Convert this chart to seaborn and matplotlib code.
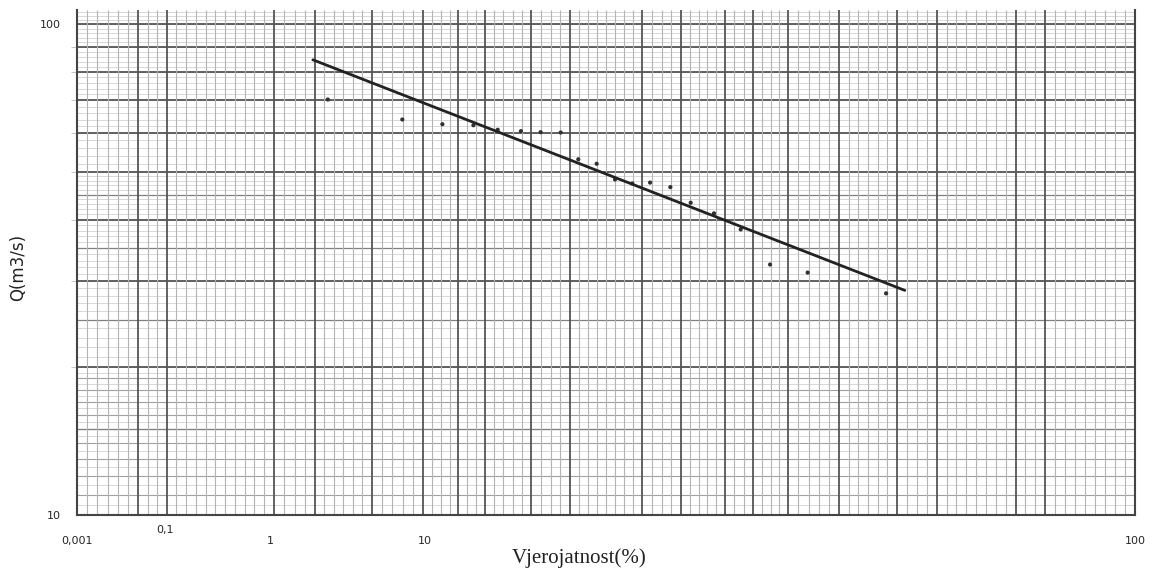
import numpy as np
import pandas as pd
import matplotlib
matplotlib.use("Agg")
import matplotlib.pyplot as plt
import seaborn as sns
from matplotlib import transforms

# 数据：经验频率 (%) 和流量 Q (m3/s)
prob = [2.36, 7.14, 10.58, 11.70, 12.66, 13.65, 14.55, 15.53, 16.44, 17.45,
        18.52, 19.59, 20.75, 22.16, 23.67, 25.53, 27.84, 30.62, 34.59, 44.61]
q = [70.3, 64.0, 62.6, 62.3, 61.0, 60.6, 60.3, 60.2, 53.1, 52.0,
     48.3, 47.4, 47.6, 46.6, 43.3, 41.2, 38.2, 32.4, 31.2, 28.3]

# 理论曲线两端
fit_prob = [1.89, 47.4]
fit_q = [84.7, 28.7]

x_ticks = [0.001, 0.1, 1, 10, 100]
x_labels = ['0,001', '0,1', '1', '10', '100']
y_ticks = [10, 100]

points = pd.DataFrame({'p': prob, 'Q': q})
fit = pd.DataFrame({'p': fit_prob, 'Q': fit_q})

# 概率纸横轴：刻度之间按对数分段
knots_log = [-3, -1, 0, 1, 2]
knots_pos = [0, 88, 193, 348, 1058]


def fwd(p):
    with np.errstate(divide='ignore', invalid='ignore'):
        lp = np.log10(np.clip(np.asarray(p, dtype=float), 1e-12, None))
    return np.interp(lp, knots_log, knots_pos)


def inv(u):
    return 10 ** np.interp(np.asarray(u, dtype=float), knots_pos, knots_log)


sns.set_theme(style="white")
plt.rcParams['font.family'] = ['DejaVu Sans']

fig = plt.figure(figsize=(11.57, 5.73), dpi=100)
ax = fig.add_axes([77 / 1157, 58 / 573, 1058 / 1157, 505 / 573])
ax.set_xscale('function', functions=(fwd, inv))
ax.set_yscale('log')
ax.set_xlim(0.001, 100)
ax.set_ylim(10, 107)

# 纸张网格 —— 横线
light_c = '#d2d2d2'
for v in np.arange(10, 20, 0.5):
    ax.axhline(v, color=light_c, lw=0.6, zorder=0)
for v in np.arange(20, 50, 1):
    ax.axhline(v, color=light_c, lw=0.6, zorder=0)
for v in np.arange(50, 107, 2):
    ax.axhline(v, color=light_c, lw=0.6, zorder=0)
for v in np.arange(11, 20, 1):
    ax.axhline(v, color='#a0a0a0', lw=0.8, zorder=0)
for v in [15, 25, 35, 45]:
    ax.axhline(v, color='#808080', lw=0.9, zorder=0)
for v in range(20, 101, 10):
    ax.axhline(v, color='#555555', lw=1.3, zorder=0)

# 纸张网格 —— 竖线（以轴宽比例表示）
dark_px = [0, 61, 89.7, 197, 238, 294.7, 346.3, 381.3, 408, 454, 493, 565.3,
           604, 648, 676, 711.3, 762.3, 819.7, 859.7, 938.7, 968, 1058]
dark = np.array(dark_px) / 1058
light = []
for a, b in zip(dark[:-1], dark[1:]):
    n = max(int(round((b - a) * 1058 / 9.5)) - 1, 0)
    light.extend(np.linspace(a, b, n + 2)[1:-1])
ax.vlines(light, 0, 1, transform=ax.transAxes, color='#b4b4b4', lw=0.8, zorder=0)
ax.vlines(dark, 0, 1, transform=ax.transAxes, color='#555555', lw=1.3, zorder=0)

# 数据点和拟合线
sns.scatterplot(data=points, x='p', y='Q', ax=ax, s=9, color='#303030',
                edgecolor='none', zorder=3)
sns.lineplot(data=fit, x='p', y='Q', ax=ax, color='#222222', lw=2, zorder=4)

ax.spines['top'].set_visible(False)
for side in ['left', 'bottom', 'right']:
    ax.spines[side].set_color('#444444')
    ax.spines[side].set_linewidth(1.5)

ax.set_xticks(x_ticks)
ax.set_xticklabels(x_labels, fontsize=8)
ax.xaxis.set_minor_locator(matplotlib.ticker.NullLocator())
ax.set_yticks(y_ticks)
ax.set_yticklabels([str(v) for v in y_ticks], fontsize=8)
ax.set_yticks([20, 30, 40, 50, 60, 70, 80, 90], minor=True)
ax.yaxis.set_minor_formatter(matplotlib.ticker.NullFormatter())
ax.tick_params(axis='x', length=0, pad=15)
ax.tick_params(axis='y', which='major', length=0, pad=12)
ax.tick_params(axis='y', which='minor', length=4, width=0.6, color='#bbbbbb', left=True)

lbls = ax.get_xticklabels()
lbls[1].set_transform(lbls[1].get_transform() +
                      transforms.ScaledTranslation(0, 8 / 72, fig.dpi_scale_trans))

ax.set_xlabel('Vjerojatnost(%)', fontsize=15, family=['Liberation Serif'], color='#222222')
ax.xaxis.set_label_coords(0.475, -0.065)
ax.set_ylabel('Q(m3/s)', fontsize=12, color='#222222')
ax.yaxis.set_label_coords(-0.047, 0.49)

fig.savefig('out.png', dpi=100)
